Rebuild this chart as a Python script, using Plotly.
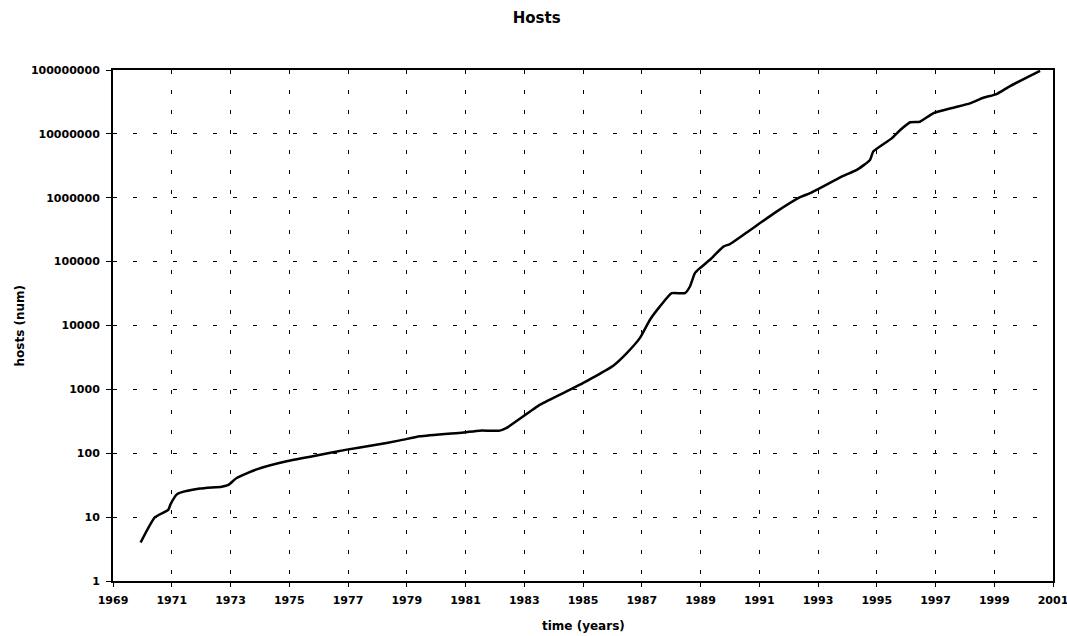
import plotly.graph_objects as go

# Internet host count over time (log scale)
years = [1969.94, 1970.43, 1970.88, 1970.96, 1971.19, 1971.96, 1972.70, 1972.93,
         1973.21, 1973.89, 1974.91, 1975.93, 1976.96, 1977.86, 1978.77, 1979.45,
         1980.93, 1981.49, 1982.17, 1982.40, 1983.54, 1984.56, 1985.01, 1985.35,
         1986.03, 1986.49, 1986.94, 1987.28, 1987.62, 1988.02, 1988.47, 1988.64,
         1988.81, 1988.98, 1989.32, 1989.78, 1990.00, 1990.57, 1991.59, 1992.39,
         1992.73, 1993.86, 1994.32, 1994.77, 1994.88, 1995.51, 1995.80, 1996.14,
         1996.47, 1996.92, 1997.61, 1998.17, 1998.63, 1999.08, 1999.54, 2000.56]
hosts = [4, 10, 13, 16, 23, 28, 30, 32,
         41, 56, 75, 92, 114, 133, 159, 184,
         212, 226, 226, 249, 576, 988, 1260, 1540,
         2350, 3700, 6400, 12300, 19900, 32100, 32100, 40800,
         66000, 79000, 107000, 172000, 188000, 285000, 607000, 1020000,
         1180000, 2200000, 2730000, 3900000, 5300000, 8500000, 11500000, 15200000,
         15500000, 21000000, 25700000, 30000000, 36800000, 42000000, 56000000, 97000000]

x_ticks = list(range(1969, 2002, 2))
y_ticks = [10 ** k for k in range(0, 9)]
y_tick_text = [str(v) for v in y_ticks]

FONT = "DejaVu Sans"
GRID_DASH = "4px,16px"

fig = go.Figure()
fig.add_trace(go.Scatter(
    x=years, y=hosts, mode="lines",
    line=dict(color="black", width=2.5, shape="spline", smoothing=0.5),
    showlegend=False,
))

fig.update_layout(
    width=1067, height=636,
    margin=dict(l=113, r=14, t=70, b=55, autoexpand=False),
    paper_bgcolor="white", plot_bgcolor="white",
    font=dict(family=FONT, size=11, color="black"),
    title=dict(text="<b>Hosts</b>", x=0.503, xanchor="center", y=0.972, yanchor="middle",
               font=dict(family=FONT, size=15, color="black")),
    xaxis=dict(
        range=[1969, 2001], tickvals=x_ticks, ticktext=[f"<b>{t}</b>" for t in x_ticks],
        showgrid=True, gridcolor="black", gridwidth=1, griddash=GRID_DASH,
        showline=True, linecolor="black", linewidth=2, mirror=True,
        ticks="outside", ticklen=4, tickcolor="black", tickwidth=1,
        zeroline=False, ticklabelstandoff=4, ticklabeloverflow="allow",
        automargin=False,
    ),
    yaxis=dict(
        type="log", range=[0, 8], tickvals=y_ticks,
        ticktext=[f"<b>{t}</b>" for t in y_tick_text],
        showgrid=True, gridcolor="black", gridwidth=1, griddash=GRID_DASH,
        showline=True, linecolor="black", linewidth=2, mirror=True,
        ticks="outside", ticklen=5, tickcolor="black", tickwidth=1,
        zeroline=False, ticklabelstandoff=4, ticklabeloverflow="allow",
        automargin=False,
    ),
    annotations=[
        dict(text="<b>time (years)</b>", xref="paper", yref="paper",
             x=0.5, y=-0.088, xanchor="center", yanchor="middle",
             showarrow=False, font=dict(family=FONT, size=12, color="black")),
        dict(text="<b>hosts (num)</b>", xref="paper", yref="paper",
             x=-0.1, y=0.5, xanchor="center", yanchor="middle", textangle=-90,
             showarrow=False, font=dict(family=FONT, size=12, color="black")),
    ],
)

fig.write_html("out.html")
